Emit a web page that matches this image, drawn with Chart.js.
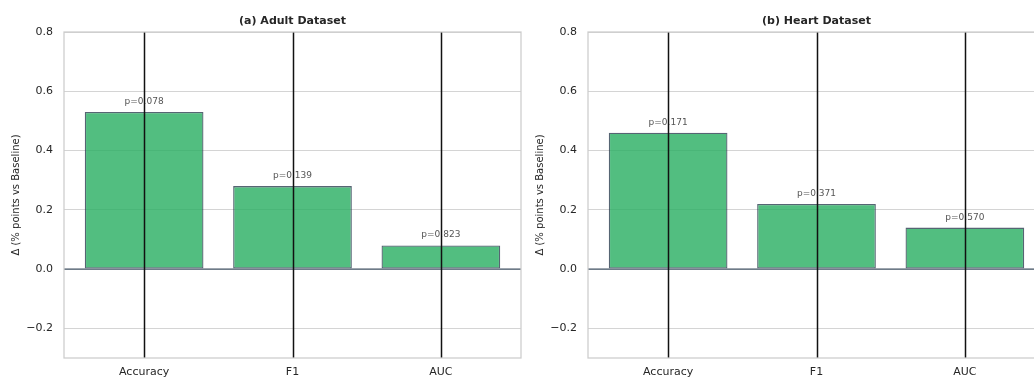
<!DOCTYPE html>
<html>
<head>
<meta charset="utf-8">
<script src="https://cdn.jsdelivr.net/npm/chart.js@4.4.0/dist/chart.umd.min.js"></script>
<style>
  html, body { margin: 0; padding: 0; background: #fff; overflow: hidden; width: 1034px; height: 380px; }
  .wrap { position: absolute; top: 0; }
  #wrapA { left: 0; }
  #wrapB { left: 524px; }
</style>
</head>
<body>
<div class="wrap" id="wrapA"><canvas id="chartA" width="522" height="380"></canvas></div>
<div class="wrap" id="wrapB"><canvas id="chartB" width="522" height="380"></canvas></div>
<script>
// categories + values
var metrics = ['Accuracy', 'F1', 'AUC'];
var yTicks = [-0.2, 0.0, 0.2, 0.4, 0.6, 0.8];

var adultDelta = [0.53, 0.28, 0.08];
var adultErr = [1.10, 0.95, 1.05];   // error bars run off the axes, so rough guesses
var adultP = [0.078, 0.139, 0.823];

var heartDelta = [0.46, 0.22, 0.14];
var heartErr = [1.20, 1.00, 0.98];
var heartP = [0.171, 0.371, 0.570];

Chart.defaults.font.family = "'DejaVu Sans', sans-serif";
Chart.defaults.color = '#262626';

// title, zero line, p labels, error bars and the box round the axes
var extras = {
  id: 'extras',
  afterDatasetsDraw: function (chart, args, opts) {
    var ctx = chart.ctx;
    var area = chart.chartArea;
    var x = chart.scales.x, y = chart.scales.y;

    ctx.save();
    // zero line
    var y0 = y.getPixelForValue(0);
    ctx.strokeStyle = '#3e4f61';
    ctx.lineWidth = 1.3;
    ctx.beginPath();
    ctx.moveTo(area.left, y0);
    ctx.lineTo(area.right, y0);
    ctx.stroke();

    // p values
    ctx.fillStyle = '#555';
    ctx.font = "9px 'DejaVu Sans'";
    ctx.textAlign = 'center';
    ctx.textBaseline = 'bottom';
    opts.values.forEach(function (v, i) {
      ctx.fillText('p=' + opts.pvals[i].toFixed(3), x.getPixelForValue(i), y.getPixelForValue(v + 0.02));
    });

    // error bars, clipped to the plot
    ctx.beginPath();
    ctx.rect(area.left, area.top, area.right - area.left, area.bottom - area.top);
    ctx.clip();
    ctx.strokeStyle = '#111';
    ctx.lineWidth = 1.5;
    opts.values.forEach(function (v, i) {
      var px = Math.round(x.getPixelForValue(i)) + 0.5;
      ctx.beginPath();
      ctx.moveTo(px, y.getPixelForValue(v - opts.errs[i]));
      ctx.lineTo(px, y.getPixelForValue(v + opts.errs[i]));
      ctx.stroke();
    });
    ctx.restore();

    // frame
    ctx.save();
    ctx.strokeStyle = '#cccccc';
    ctx.lineWidth = 1.25;
    ctx.strokeRect(area.left, area.top, area.right - area.left, area.bottom - area.top);

    // title
    ctx.fillStyle = '#262626';
    ctx.font = "bold 11px 'DejaVu Sans'";
    ctx.textAlign = 'center';
    ctx.textBaseline = 'middle';
    ctx.fillText(opts.title, (area.left + area.right) / 2, 21);
    ctx.restore();
  }
};

function makeChart(id, title, values, errs, pvals) {
  var ctx = document.getElementById(id).getContext('2d');
  return new Chart(ctx, {
    type: 'bar',
    data: {
      datasets: [{
        data: values.map(function (v, i) { return { x: i, y: v }; }),
        backgroundColor: 'rgba(39, 174, 96, 0.8)',
        borderColor: 'rgba(44, 62, 80, 0.8)',
        borderWidth: 1.3,
        borderSkipped: false,
        barPercentage: 0.8,
        categoryPercentage: 1.0
      }]
    },
    options: {
      responsive: false,
      animation: false,
      devicePixelRatio: 1,
      layout: { padding: { top: 32, right: 1, bottom: 0, left: 0 } },
      plugins: {
        legend: { display: false },
        tooltip: { enabled: false },
        extras: { title: title, values: values, errs: errs, pvals: pvals }
      },
      scales: {
        x: {
          type: 'linear',
          offset: false,
          min: -0.54,
          max: 2.54,
          afterBuildTicks: function (scale) {
            scale.ticks = metrics.map(function (m, i) { return { value: i }; });
          },
          afterFit: function (scale) { scale.height = 22; },
          ticks: {
            font: { size: 11 },
            color: '#262626',
            padding: 8,
            maxRotation: 0,
            callback: function (v) { return metrics[v]; }
          },
          grid: { display: false, drawTicks: false, offset: false },
          border: { display: false }
        },
        y: {
          min: -0.3,
          max: 0.8,
          afterBuildTicks: function (scale) {
            scale.ticks = yTicks.map(function (t) { return { value: t }; });
          },
          afterFit: function (scale) { scale.width = 64; },
          ticks: {
            font: { size: 11 },
            color: '#262626',
            padding: 11,
            callback: function (v) { return v.toFixed(1).replace('-', '\u2212'); }
          },
          grid: {
            drawTicks: false,
            color: function (c) { return c.tick && c.tick.value === 0 ? 'rgba(0,0,0,0)' : '#d4d4d4'; },
            lineWidth: 1
          },
          border: { display: false },
          title: {
            display: true,
            text: '\u0394 (% points vs Baseline)',
            font: { size: 10 },
            color: '#262626',
            padding: { top: 10, bottom: 0 }
          }
        }
      }
    },
    plugins: [extras]
  });
}

makeChart('chartA', '(a) Adult Dataset', adultDelta, adultErr, adultP);
makeChart('chartB', '(b) Heart Dataset', heartDelta, heartErr, heartP);
</script>
</body>
</html>
